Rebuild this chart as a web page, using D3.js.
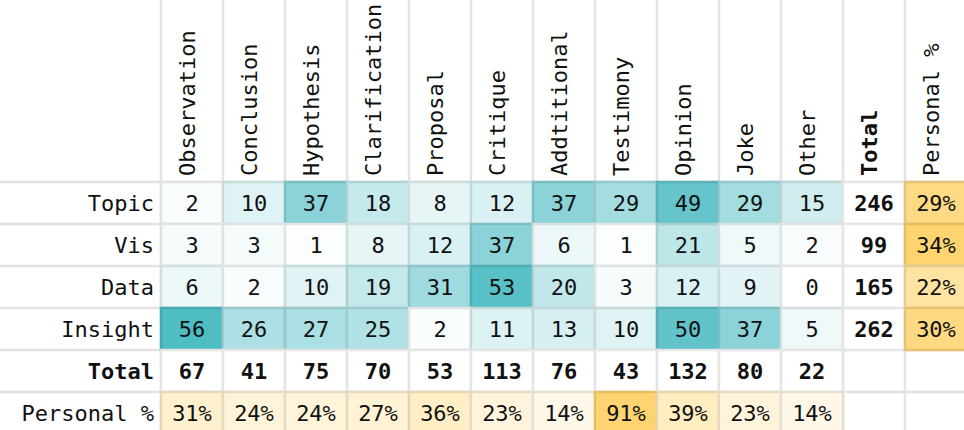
<!DOCTYPE html>
<html lang="en">
<head>
<meta charset="UTF-8">
<title>Comment types by subject</title>
<script src="https://d3js.org/d3.v7.min.js"></script>
<style>
  body { margin: 0; background: #fff; }
  text { font-family: "DejaVu Sans Mono", monospace; font-size: 22px; fill: #111; }
</style>
</head>
<body>
<div id="chart"></div>
<script>
// column categories (comment types)
var types = ["Observation", "Conclusion", "Hypothesis", "Clarification", "Proposal", "Critique",
             "Addtitional", "Testimony", "Opinion", "Joke", "Other"];
// row categories (subjects)
var subjects = ["Topic", "Vis", "Data", "Insight"];

// counts per subject, one value per type
var topicCounts   = [2, 10, 37, 18, 8, 12, 37, 29, 49, 29, 15];
var visCounts     = [3, 3, 1, 8, 12, 37, 6, 1, 21, 5, 2];
var dataCounts    = [6, 2, 10, 19, 31, 53, 20, 3, 12, 9, 0];
var insightCounts = [56, 26, 27, 25, 2, 11, 13, 10, 50, 37, 5];

var rowTotals = [246, 99, 165, 262];
var rowPersonal = [29, 34, 22, 30];
var colTotals = [67, 41, 75, 70, 53, 113, 76, 43, 132, 80, 22];
var colPersonal = [31, 24, 24, 27, 36, 23, 14, 91, 39, 23, 14];

var counts = [topicCounts, visCounts, dataCounts, insightCounts];

var W = 964, H = 430;
// note: "top" is reserved on window, so use other names
var gridLeft = 161, gridTop = 182, cellW = 62, cellH = 42;

var columns = types.concat(["Total", "Personal %"]);
var rows = subjects.concat(["Total", "Personal %"]);

var x = d3.scaleBand().domain(columns).range([gridLeft, gridLeft + cellW * columns.length]);
var y = d3.scaleBand().domain(rows).range([gridTop, gridTop + cellH * rows.length]);

var teal = d3.scaleLinear().domain([0, d3.max(counts.flat())]).range(["#ffffff", "#4fbdc4"]);
var yellowCol = d3.scaleLinear().domain([0, d3.max(rowPersonal)]).range(["#ffffff", "#fed470"]);
var yellowRow = d3.scaleLinear().domain([0, d3.max(colPersonal)]).range(["#ffffff", "#fed470"]);

var svg = d3.select("#chart").append("svg")
    .attr("width", W)
    .attr("height", H);

var grid = "#e3e3e3";

// grid lines
svg.append("g").selectAll("line")
    .data(columns.map(function (c) { return x(c); }))
    .join("line")
    .attr("x1", function (d) { return d; }).attr("x2", function (d) { return d; })
    .attr("y1", 0).attr("y2", H)
    .attr("stroke", grid).attr("stroke-width", 2.5);

svg.append("g").selectAll("line")
    .data(rows.map(function (r) { return y(r); }))
    .join("line")
    .attr("x1", 0).attr("x2", W)
    .attr("y1", function (d) { return d; }).attr("y2", function (d) { return d; })
    .attr("stroke", grid).attr("stroke-width", 2.5);

// build cell list
var cells = [];
subjects.forEach(function (s, i) {
    types.forEach(function (t, j) {
        cells.push({row: s, col: t, text: counts[i][j], fill: teal(counts[i][j]), bold: false});
    });
    cells.push({row: s, col: "Total", text: rowTotals[i], fill: "#ffffff", bold: true});
    cells.push({row: s, col: "Personal %", text: rowPersonal[i] + "%", fill: yellowCol(rowPersonal[i]), bold: false});
});
types.forEach(function (t, j) {
    cells.push({row: "Total", col: t, text: colTotals[j], fill: "#ffffff", bold: true});
    cells.push({row: "Personal %", col: t, text: colPersonal[j] + "%", fill: yellowRow(colPersonal[j]), bold: false});
});

var cellG = svg.append("g").selectAll("g")
    .data(cells)
    .join("g")
    .attr("transform", function (d) { return "translate(" + x(d.col) + "," + y(d.row) + ")"; });

cellG.append("rect")
    .attr("width", x.bandwidth())
    .attr("height", y.bandwidth())
    .attr("fill", function (d) { return d.fill; })
    .attr("stroke", function (d) { return d3.color(d.fill).darker(0.3); })
    .attr("stroke-width", 2.5);

cellG.append("text")
    .attr("x", x.bandwidth() / 2)
    .attr("y", y.bandwidth() / 2)
    .attr("dy", "0.36em")
    .attr("text-anchor", "middle")
    .style("font-weight", function (d) { return d.bold ? "bold" : "normal"; })
    .text(function (d) { return d.text; });

// row labels
svg.append("g").selectAll("text")
    .data(rows)
    .join("text")
    .attr("x", gridLeft - 7)
    .attr("y", function (d) { return y(d) + cellH / 2; })
    .attr("dy", "0.36em")
    .attr("text-anchor", "end")
    .style("font-weight", function (d) { return d == "Total" ? "bold" : "normal"; })
    .text(function (d) { return d; });

// column headers, rotated
svg.append("g").selectAll("text")
    .data(columns)
    .join("text")
    .attr("transform", function (d) { return "translate(" + (x(d) + 34) + "," + (gridTop - 6) + ") rotate(-90)"; })
    .attr("text-anchor", "start")
    .style("font-weight", function (d) { return d == "Total" ? "bold" : "normal"; })
    .text(function (d) { return d; });
</script>
</body>
</html>
